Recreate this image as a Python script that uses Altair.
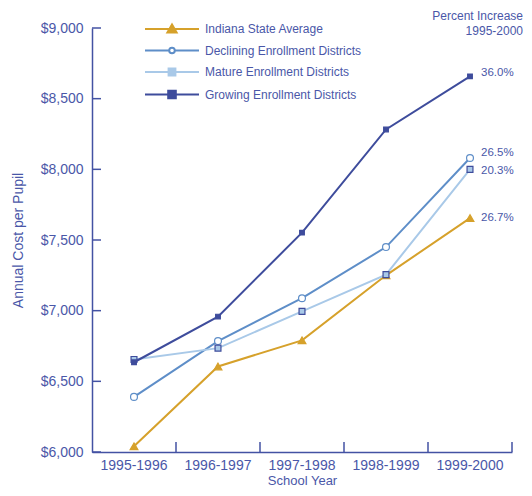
import altair as alt
import pandas as pd

years = ["1995-1996", "1996-1997", "1997-1998", "1998-1999", "1999-2000"]
series = [
    "Indiana State Average",
    "Declining Enrollment Districts",
    "Mature Enrollment Districts",
    "Growing Enrollment Districts",
]
indiana = [6040, 6605, 6790, 7250, 7655]
declining = [6390, 6785, 7088, 7450, 8080]
mature = [6655, 6735, 6995, 7255, 8000]
growing = [6635, 6958, 7552, 8282, 8658]
pct_labels = ["26.7%", "26.5%", "20.3%", "36.0%"]
y_ticks = [6000, 6500, 7000, 7500, 8000, 8500, 9000]

# styles
GOLD = "#D6A12B"
STEEL = "#5E8EC8"
LIGHT = "#A9C9E8"
NAVY = "#3E4C9C"
TEXT = "#4A57A8"
AXIS = "#4352A3"
FONT = "Liberation Sans"

line_colors = [GOLD, STEEL, LIGHT, NAVY]
point_fill = [GOLD, "white", LIGHT, NAVY]
point_stroke = [GOLD, STEEL, NAVY, NAVY]
point_shapes = ["triangle-up", "circle", "square", "square"]
point_sizes = [60, 22, 40, 45]
label_dy = [0, -5, 2, -3]

legend_paths = [
    "M-6.75,0H6.75M-1.15,0.85L1.15,0.85L0,-1.15Z",
    "M-6.75,0H-0.7M0.7,0H6.75M-0.7,0A0.7,0.7,0,1,1,0.7,0A0.7,0.7,0,1,1,-0.7,0Z",
    "M-6.75,0H-0.85M0.85,0H6.75M-0.85,-0.85H0.85V0.85H-0.85Z",
    "M-6.75,0H-0.95M0.95,0H6.75M-0.95,-0.95H0.95V0.95H-0.95Z",
]

rows = []
for s, vals in zip(series, [indiana, declining, mature, growing]):
    for yr, v in zip(years, vals):
        rows.append({"series": s, "year": yr, "cost": v})
df = pd.DataFrame(rows)

last_vals = [indiana[-1], declining[-1], mature[-1], growing[-1]]
label_df = pd.DataFrame({
    "series": series,
    "year": [years[-1]] * 4,
    "cost": last_vals,
    "label": pct_labels,
})

W, H = 420, 424

xscale = alt.Scale(type="band", domain=years, paddingInner=0, paddingOuter=0)
yscale = alt.Scale(domain=[6000, 9000], nice=False, zero=False)

x_axis = alt.Axis(
    title="School Year", ticks=False, labelPadding=6, labelFontSize=14,
    labelColor=TEXT, titleColor=TEXT, titleFontSize=13, titleFontWeight="normal",
    titlePadding=2, domainColor=AXIS, domainWidth=1.5, grid=False, labelAngle=0,
)
y_axis = alt.Axis(
    title="Annual Cost per Pupil", values=y_ticks, format="$,.0f", ticks=False,
    labelPadding=9, labelFontSize=14, labelColor=TEXT, titleColor=TEXT,
    titleFontSize=14, titleFontWeight="normal", titlePadding=15,
    domainColor=AXIS, domainWidth=1.5, grid=False,
)

x_enc = alt.X("year:N", sort=years, scale=xscale, bandPosition=0.5, axis=x_axis, title="School Year")
y_enc = alt.Y("cost:Q", scale=yscale, axis=y_axis, title="Annual Cost per Pupil")

base = alt.Chart(df)

lines = base.mark_line(strokeWidth=2).encode(
    x=x_enc, y=y_enc,
    color=alt.Color("series:N", scale=alt.Scale(domain=series, range=line_colors), legend=None),
)

points = base.mark_point(filled=True, opacity=1, strokeWidth=1.2).encode(
    x=x_enc, y=y_enc,
    shape=alt.Shape("series:N", scale=alt.Scale(domain=series, range=point_shapes), legend=None),
    fill=alt.Fill("series:N", scale=alt.Scale(domain=series, range=point_fill), legend=None),
    stroke=alt.Stroke("series:N", scale=alt.Scale(domain=series, range=point_stroke), legend=None),
    size=alt.Size("series:O", scale=alt.Scale(domain=series, range=point_sizes), legend=None),
)

leg = alt.Legend(
    title=None, orient="none", legendX=74, legendY=-5, padding=0,
    labelOffset=27, labelFontSize=12, labelColor=TEXT, labelFont=FONT,
    labelLimit=300, symbolSize=64, symbolStrokeWidth=2, rowPadding=6.5,
)
legend_layer = base.transform_filter("false").mark_point(filled=True, opacity=1).encode(
    shape=alt.Shape("series:N", scale=alt.Scale(domain=series, range=legend_paths), legend=leg),
    fill=alt.Fill("series:N", scale=alt.Scale(domain=series, range=point_fill), legend=leg),
    stroke=alt.Stroke("series:N", scale=alt.Scale(domain=series, range=line_colors), legend=leg),
)

ytick_layer = alt.Chart(pd.DataFrame({"cost": y_ticks})).mark_rule(color=AXIS, strokeWidth=1.5).encode(
    y=y_enc,
    x=alt.value(0), x2=alt.value(9),
)
xtick_layer = alt.Chart(pd.DataFrame({"year": years})).mark_rule(color=AXIS, strokeWidth=1.5).encode(
    x=alt.X("year:N", sort=years, scale=xscale, bandPosition=1, axis=x_axis, title="School Year"),
    y=alt.value(H - 10), y2=alt.value(H),
)

text_layers = []
for s, dy in zip(series, label_dy):
    text_layers.append(
        alt.Chart(label_df).transform_filter(alt.datum.series == s).mark_text(
            align="left", baseline="middle", dx=11, dy=dy, fontSize=11.5, color=TEXT, font=FONT,
        ).encode(
            x=x_enc,
            y=y_enc,
            text="label:N",
        )
    )

chart = alt.layer(
    lines, points, ytick_layer, xtick_layer, legend_layer, *text_layers
).resolve_scale(
    shape="independent", fill="independent", stroke="independent"
).properties(
    width=W, height=H,
    autosize=alt.AutoSizeParams(type="none"),
    padding={"left": 84, "top": 20, "right": 12, "bottom": 36},
    title=alt.TitleParams(
        text=["Percent Increase", "1995-2000"], anchor="end", frame="group",
        fontSize=12, fontWeight="normal", color=TEXT, font=FONT,
        dx=11, dy=17, offset=0, lineHeight=15,
    ),
).configure(font=FONT).configure_view(stroke=None)

chart.save("out.html", embed_options={"renderer": "svg", "actions": False})
